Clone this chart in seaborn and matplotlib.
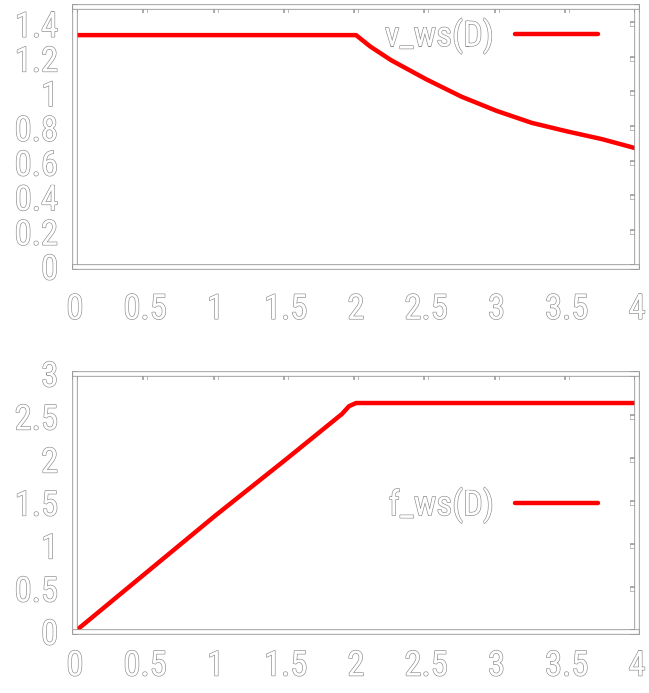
import numpy as np
import pandas as pd
import matplotlib
matplotlib.use("Agg")
import matplotlib.pyplot as plt
import matplotlib.patheffects as pe
import seaborn as sns

# values
D_v = [0.0, 1.0, 2.0, 2.1, 2.25, 2.5, 2.75, 3.0, 3.25, 3.5, 3.75, 4.0]
v_ws = [1.335, 1.335, 1.335, 1.27, 1.19, 1.08, 0.98, 0.898, 0.829, 0.78, 0.735, 0.68]

D_f = [0.0, 0.5, 1.0, 1.5, 1.9, 1.95, 2.0, 3.0, 4.0]
f_ws = [0.0, 0.675, 1.35, 2.0, 2.53, 2.62, 2.657, 2.657, 2.657]

x_ticks = [0, 0.5, 1, 1.5, 2, 2.5, 3, 3.5, 4]
x_labels = ["0", "0.5", "1", "1.5", "2", "2.5", "3", "3.5", "4"]
v_ticks = [0, 0.2, 0.4, 0.6, 0.8, 1.0, 1.2, 1.4]
v_labels = ["0", "0.2", "0.4", "0.6", "0.8", "1", "1.2", "1.4"]
f_ticks = [0, 0.5, 1, 1.5, 2, 2.5, 3]
f_labels = ["0", "0.5", "1", "1.5", "2", "2.5", "3"]

sns.set_style("white")
plt.rcParams["font.family"] = ["Roboto Condensed", "Liberation Sans", "DejaVu Sans"]

# hollow (outlined) look of the original text and frame
hollow = [pe.withStroke(linewidth=0.9, foreground="#8a8a8a")]
frame_fx = [pe.withStroke(linewidth=4.0, foreground="#999999")]

fig = plt.figure(figsize=(6.49, 6.93), dpi=100)
ax1 = fig.add_axes([0.1156, 0.6154, 0.866, 0.3752])
ax2 = fig.add_axes([0.1156, 0.0887, 0.866, 0.3723])


def style_axes(ax, yticks, ylabels, ylim, xpad):
    ax.set_xlim(0, 4)
    ax.set_ylim(*ylim)
    ax.set_xticks(x_ticks)
    ax.set_xticklabels(x_labels)
    ax.set_yticks(yticks)
    ax.set_yticklabels(ylabels)
    ax.set_xlabel("")
    ax.set_ylabel("")
    ax.tick_params(axis="both", direction="in", length=5, width=2.4,
                   color="white", top=True, right=True, labelsize=25)
    ax.tick_params(axis="x", pad=xpad)
    ax.tick_params(axis="y", pad=12)
    for sp in ax.spines.values():
        sp.set_visible(True)
        sp.set_color("white")
        sp.set_linewidth(2.7)
        sp.set_path_effects(frame_fx)
    for t in ax.xaxis.get_major_ticks() + ax.yaxis.get_major_ticks():
        t.tick1line.set_path_effects(frame_fx)
        t.tick2line.set_path_effects(frame_fx)
    for lab in ax.get_xticklabels() + ax.get_yticklabels():
        lab.set_color("white")
        lab.set_path_effects(hollow)


def add_legend(ax, y):
    leg = ax.legend(loc="center right", bbox_to_anchor=(0.931, y),
                    frameon=False, markerfirst=False, fontsize=25,
                    handlelength=2.4, handletextpad=0.6,
                    borderpad=0, borderaxespad=0)
    for txt in leg.get_texts():
        txt.set_color("white")
        txt.set_path_effects(hollow)


df_v = pd.DataFrame({"D": D_v, "v": v_ws})
df_f = pd.DataFrame({"D": D_f, "f": f_ws})

sns.lineplot(data=df_v, x="D", y="v", ax=ax1, color="#ff0000",
             linewidth=3.2, label="v_ws(D)")
sns.lineplot(data=df_f, x="D", y="f", ax=ax2, color="#ff0000",
             linewidth=3.2, label="f_ws(D)")

style_axes(ax1, v_ticks, v_labels, (0, 1.5), 19)
style_axes(ax2, f_ticks, f_labels, (0, 3), 13)
add_legend(ax1, 0.887)
add_legend(ax2, 0.49)

fig.savefig("out.png", dpi=100)
